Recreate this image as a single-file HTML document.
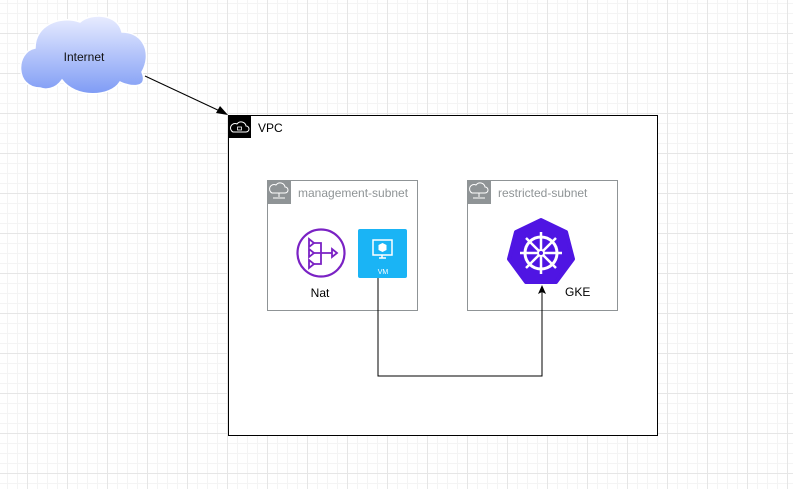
<!DOCTYPE html>
<html><head><style>
body{margin:0;width:793px;height:489px;overflow:hidden;font-family:"Liberation Sans",sans-serif;
background-color:#fff;
background-image:linear-gradient(#e6e6e6 1px,transparent 1px),linear-gradient(90deg,#e6e6e6 1px,transparent 1px),linear-gradient(#f4f4f4 1px,transparent 1px),linear-gradient(90deg,#f4f4f4 1px,transparent 1px);
background-size:40px 40px,40px 40px,10px 10px,10px 10px;
background-position:0 33px,27px 0,0 3px,7px 0;}
</style></head><body>
<svg width="793" height="489" style="position:absolute;left:0;top:0">
<defs><linearGradient id="g" x1="0" y1="0" x2="0" y2="1"><stop offset="0" stop-color="#e8ecff"/><stop offset="1" stop-color="#7f9cf5"/></linearGradient></defs>
<g fill="url(#g)" stroke="#fff" stroke-width="1.5">
<path d="M40,88 C15,88 15,52 35,48 C35,25 60,15 80,22 C92,12 118,14 122,32 C145,32 152,55 142,72 C150,92 125,85 120,82 C110,98 75,98 62,80 C55,90 45,90 40,88 Z"/>
</g>
<text x="84" y="61" font-size="12" text-anchor="middle" fill="#111">Internet</text>
<line x1="145" y1="76" x2="222" y2="112" stroke="#000"/>
<polygon points="228,115 216,113 220,106" fill="#000"/>
<rect x="228.5" y="115.5" width="429" height="320" fill="#fff" stroke="#000"/>
<rect x="228" y="115" width="23" height="23" fill="#000"/>
<path d="M233,132 h13 a3,3 0 0 0 0,-6 a5,5 0 0 0 -9,-2 a3,3 0 0 0 -4,8z" fill="none" stroke="#fff"/>
<rect x="237.5" y="127" width="4" height="3" fill="none" stroke="#fff" stroke-width="0.8"/>
<text x="258" y="132" font-size="12">VPC</text>
<rect x="267.5" y="180.5" width="150" height="130" fill="none" stroke="#8f9496"/>
<rect x="267" y="180" width="24" height="24" fill="#8f9496"/>
<text x="298" y="197" font-size="12" fill="#8f9496">management-subnet</text>
<rect x="467.5" y="180.5" width="150" height="130" fill="none" stroke="#8f9496"/>
<rect x="467" y="180" width="24" height="24" fill="#8f9496"/>
<text x="498" y="197" font-size="12" fill="#8f9496">restricted-subnet</text>
<g fill="none" stroke="#fff"><path d="M272,193 h13 a3,3 0 0 0 0,-6 a5,5 0 0 0 -9,-2 a3,3 0 0 0 -4,8z M279,193 v4 M273,198 h12"/><path d="M472,193 h13 a3,3 0 0 0 0,-6 a5,5 0 0 0 -9,-2 a3,3 0 0 0 -4,8z M479,193 v4 M473,198 h12"/></g>
<circle cx="321" cy="253" r="23.5" fill="none" stroke="#7a22c4" stroke-width="2.2"/>
<g stroke="#7a22c4" stroke-width="1.8" fill="none"><path d="M314,243 h7 v21 h-7 M314,253 h18 M321,253 h0"/><path d="M309,239 l5,4 -5,4z M309,249 l5,4 -5,4z M309,260 l5,4 -5,4z M332,249 l5,4 -5,4z"/></g>
<text x="320" y="297" font-size="12" text-anchor="middle">Nat</text>
<rect x="358" y="229" width="49" height="49" rx="2" fill="#1ab4f5"/>
<rect x="373" y="240" width="19" height="15" fill="none" stroke="#fff" stroke-width="1.5"/>
<path d="M379,258 h7 M382,255 v3" stroke="#fff" stroke-width="1.5"/>
<path d="M382.5,243 l4,2 v5 l-4,2 -4,-2 v-5z" fill="#fff"/>
<text x="383" y="274" font-size="7" fill="#fff" text-anchor="middle">VM</text>
<path d="M541,220 L566,232 L573,259 L556,282 L526,282 L509,259 L516,232 Z" fill="#4f15e3" stroke="#4f15e3" stroke-width="4" stroke-linejoin="round"/>
<circle cx="541" cy="253" r="16" fill="none" stroke="#fff" stroke-width="3"/>
<g stroke="#fff" stroke-width="2.5"><line x1="541" y1="232" x2="541" y2="274"/><line x1="520" y1="253" x2="562" y2="253"/><line x1="526" y1="238" x2="556" y2="268"/><line x1="556" y1="238" x2="526" y2="268"/></g>
<circle cx="541" cy="253" r="4" fill="#fff"/><circle cx="541" cy="253" r="2" fill="#4f15e3"/>
<text x="565" y="296" font-size="12">GKE</text>
<path d="M378,278 V376 H542 V292" fill="none" stroke="#000"/>
<polygon points="542,285 546,294 542,292 538,294" fill="#000"/>
</svg>
</body></html>
